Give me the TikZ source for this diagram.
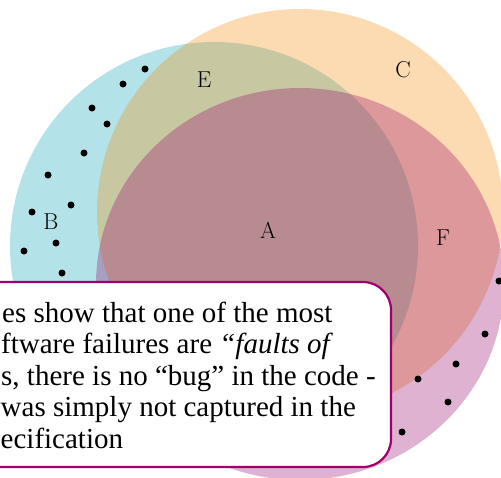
\documentclass[tikz,border=0pt]{standalone}
\usepackage{fontspec}
\newfontfamily\boxfont{Liberation Serif}
\definecolor{cyanc}{RGB}{2,162,178}
\definecolor{orangec}{RGB}{248,135,0}
\definecolor{purplec}{RGB}{145,0,100}
\definecolor{boxc}{RGB}{160,0,110}
\begin{document}
\begin{tikzpicture}[x=1pt,y=-1pt,
  setfill/.style={fill opacity=0.3},
  dotmark/.style={circle,fill=black,inner sep=0pt,minimum size=7pt},
  lab/.style={font=\fontsize{23}{28}\selectfont, inner sep=0pt},
  txt/.style={font=\boxfont\fontsize{29}{33}\selectfont, anchor=base west, inner sep=0pt},
  notebox/.style={draw=boxc, line width=2.2pt, fill=white, rounded corners=28pt}]
\useasboundingbox (0,0) rectangle (501,477);
% sets
\fill[cyanc, setfill] (214,246) circle [radius=204pt];
\fill[orangec, setfill] (300,212) circle [radius=203pt];
\fill[purplec, setfill] (300,284) ellipse [x radius=204pt, y radius=196pt];
% labels
\node[lab] (A) at (268,230) {A};
\node[lab] (B) at (51,222) {B};
\node[lab] (C) at (403,70) {C};
\node[lab] (E) at (204,80) {E};
\node[lab] (F) at (443,238) {F};
% dots in B
\foreach \p [count=\i] in {(145,69),(123,84),(92,108),(107,124),(84,153),(48,175),(71,205),(32,212),(56,243),(24,251),(62,273)}
  \node[dotmark] (b\i) at \p {};
% dots in D
\foreach \p [count=\i] in {(499,281),(485,334),(456,364),(418,379),(448,402),(402,432)}
  \node[dotmark] (d\i) at \p {};
% note box
\draw[notebox] (-40,282) rectangle (391,467);
\node[txt] (t1) at (2,322) {es show that one of the most};
\node[txt] (t2) at (1,353.5) {ftware failures are \textit{“faults of}};
\node[txt] (t3) at (1,385) {s, there is no “bug” in the code -};
\node[txt] (t4) at (0.5,416.5) {was simply not captured in the};
\node[txt] (t5) at (0.5,448) {ecification};
\end{tikzpicture}
\end{document}
